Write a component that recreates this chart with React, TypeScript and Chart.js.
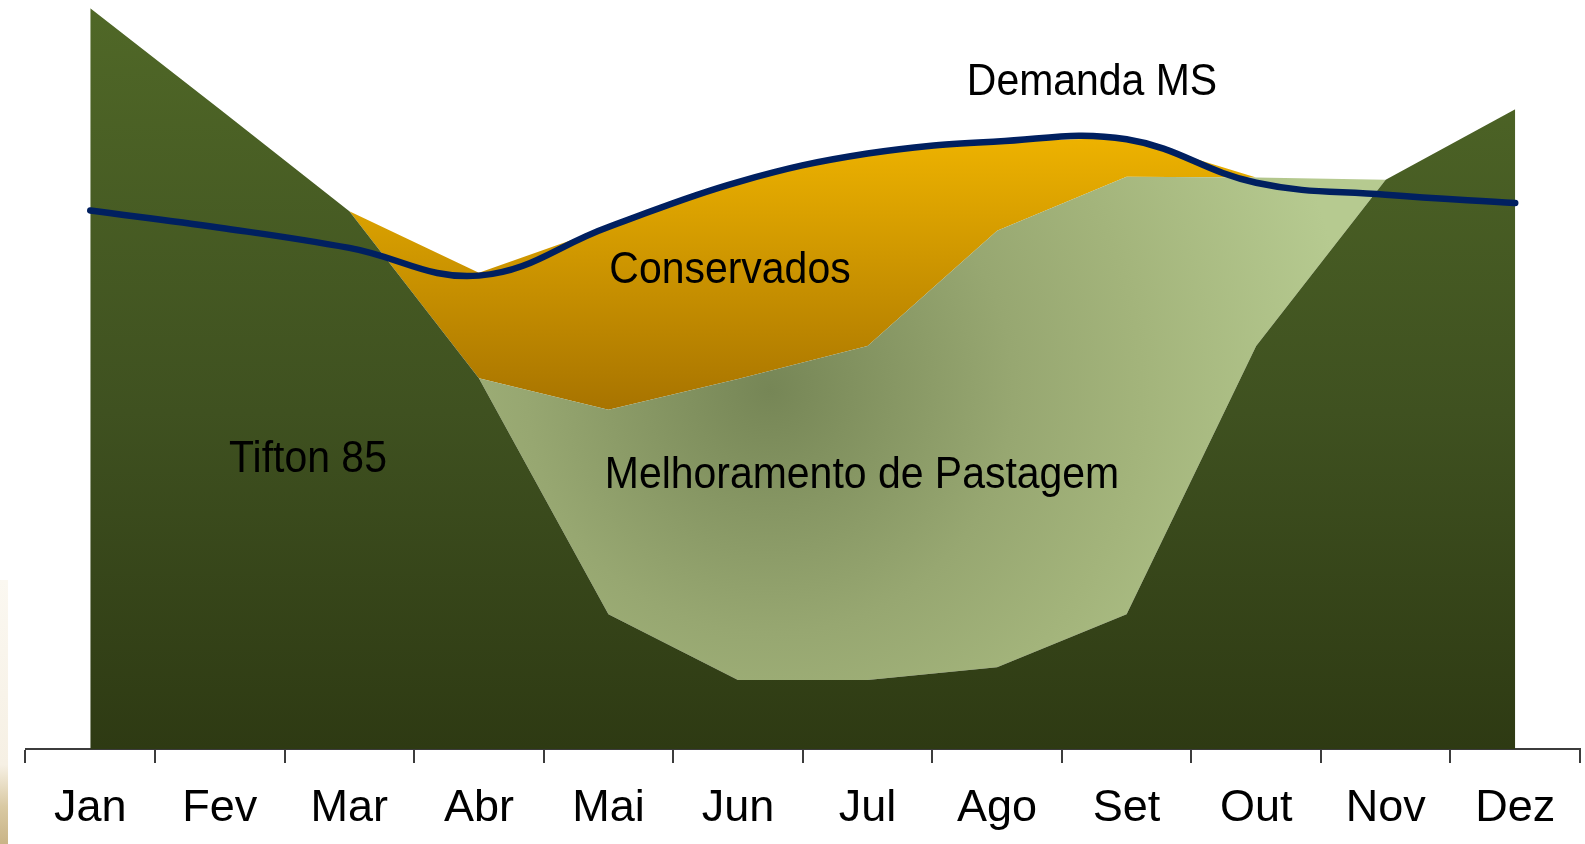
import React, { useEffect, useRef } from 'react';
import { Chart, registerables } from 'chart.js';

Chart.register(...registerables);

// ---- data (arbitrary units 0..100) ----
const months = ['Jan', 'Fev', 'Mar', 'Abr', 'Mai', 'Jun', 'Jul', 'Ago', 'Set', 'Out', 'Nov', 'Dez'];
const tifton85 = [98.9, 85.4, 71.8, 49.5, 18.0, 9.2, 9.2, 10.9, 18.0, 53.8, 76.0, 85.4];
const melhoramentoPastagem = [0, 0, 0, 0, 27.3, 40.2, 44.6, 58.3, 58.4, 22.5, 0, 0];
const conservados = [0, 0, 0, 14.1, 24.4, 26.3, 25.7, 11.9, 5.2, 0, 0, 0];
const demandaMS = [71.9, 69.6, 66.9, 63.2, 69.7, 75.7, 79.5, 81.1, 81.4, 75.6, 74.0, 72.9];
const yMin = 0;
const yMax = 100;

// ---- in-chart labels ----
const areaLabels = [
  { text: 'Demanda MS', x: 1092, y: 95 },
  { text: 'Conservados', x: 730, y: 283 },
  { text: 'Tifton 85', x: 308, y: 472 },
  { text: 'Melhoramento de Pastagem', x: 862, y: 488 },
];

const FONT = "'Liberation Sans', Arial, Helvetica, sans-serif";

const labelPlugin = {
  id: 'areaLabels',
  afterDatasetsDraw(chart: any) {
    const c: CanvasRenderingContext2D = chart.ctx;
    c.save();
    c.fillStyle = '#000000';
    c.font = `45px ${FONT}`;
    c.textAlign = 'center';
    c.textBaseline = 'alphabetic';
    for (const a of areaLabels) {
      c.save();
      c.translate(a.x, a.y);
      c.scale(0.91, 1);
      c.fillText(a.text, 0, 0);
      c.restore();
    }
    c.restore();
  },
};

function tiftonFill(ctx: any) {
  const chart = ctx.chart;
  const area = chart.chartArea;
  if (!area) return '#3F5120';
  const g = chart.ctx.createLinearGradient(0, area.top, 0, area.bottom);
  g.addColorStop(0, '#506827');
  g.addColorStop(0.55, '#3F5120');
  g.addColorStop(1, '#2E3A13');
  return g;
}

function melhoramentoFill(ctx: any) {
  const chart = ctx.chart;
  const area = chart.chartArea;
  if (!area) return '#97A771';
  const g = chart.ctx.createRadialGradient(770, 390, 0, 770, 390, 580);
  g.addColorStop(0, '#768656');
  g.addColorStop(0.42, '#97A771');
  g.addColorStop(0.64, '#A3B47B');
  g.addColorStop(1, '#B6CA90');
  return g;
}

function conservadosFill(ctx: any) {
  const chart = ctx.chart;
  const area = chart.chartArea;
  const y = chart.scales?.y;
  if (!area || !y) return '#D09A00';
  const g = chart.ctx.createLinearGradient(0, y.getPixelForValue(82), 0, y.getPixelForValue(45));
  g.addColorStop(0, '#EEB300');
  g.addColorStop(1, '#A77300');
  return g;
}

export default function App() {
  const canvasRef = useRef<HTMLCanvasElement | null>(null);

  useEffect(() => {
    if (!canvasRef.current) return;
    const chart = new Chart(canvasRef.current, {
      type: 'line',
      data: {
        labels: months,
        datasets: [
          {
            label: 'Tifton 85',
            data: tifton85,
            stack: 'areas',
            fill: 'origin',
            backgroundColor: tiftonFill,
            borderWidth: 0,
            pointRadius: 0,
            tension: 0,
            order: 1,
          },
          {
            label: 'Melhoramento de Pastagem',
            data: melhoramentoPastagem,
            stack: 'areas',
            fill: '-1',
            backgroundColor: melhoramentoFill,
            borderWidth: 0,
            pointRadius: 0,
            tension: 0,
            order: 1,
          },
          {
            label: 'Conservados',
            data: conservados,
            stack: 'areas',
            fill: '-1',
            backgroundColor: conservadosFill,
            borderWidth: 0,
            pointRadius: 0,
            tension: 0,
            order: 1,
          },
          {
            label: 'Demanda MS',
            data: demandaMS,
            stack: 'demand',
            fill: false,
            borderColor: '#002060',
            borderWidth: 6.5,
            borderCapStyle: 'round',
            borderJoinStyle: 'round',
            pointRadius: 0,
            tension: 0.4,
            order: -1,
            clip: false as any,
          },
        ],
      },
      options: {
        animation: false,
        responsive: false,
        layout: { padding: { left: 25.5, right: 5, top: 0, bottom: 9 } },
        plugins: {
          legend: { display: false },
          tooltip: { enabled: false },
        },
        scales: {
          x: {
            type: 'category',
            offset: true,
            grid: {
              offset: true,
              drawOnChartArea: false,
              drawTicks: true,
              tickLength: 14,
              color: '#3C3C3C',
              lineWidth: 2,
            },
            border: { display: true, color: '#3C3C3C', width: 2 },
            ticks: {
              color: '#000000',
              font: { family: FONT, size: 45 },
              padding: 19,
              autoSkip: false,
              maxRotation: 0,
            },
          },
          y: {
            display: false,
            stacked: true,
            min: yMin,
            max: yMax,
          },
        },
      },
      plugins: [labelPlugin],
    });
    return () => chart.destroy();
  }, []);

  return (
    <div style={{ position: 'fixed', left: 0, top: 0, width: 1585, height: 844, background: '#ffffff', overflow: 'hidden' }}>
      <div
        style={{
          position: 'absolute',
          left: 0,
          top: 580,
          width: 8,
          height: 264,
          background: 'linear-gradient(to bottom, #FBF8F1 0%, #F6F0E4 70%, #D9C9A2 86%, #C9B487 100%)',
        }}
      />
      <canvas ref={canvasRef} width={1585} height={864} style={{ display: 'block', position: 'absolute', left: 0, top: 0 }} />
    </div>
  );
}
